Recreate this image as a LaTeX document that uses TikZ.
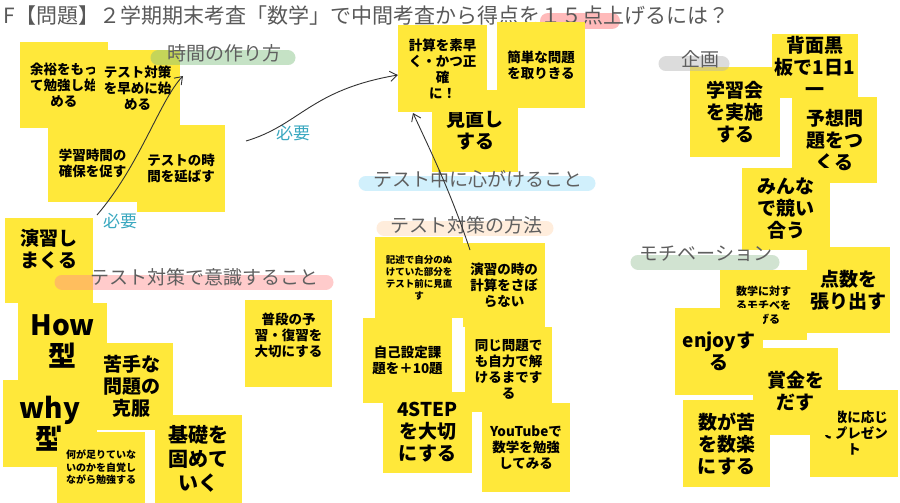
\documentclass[tikz,border=0pt]{standalone}
\usepackage{fontspec}
\setmainfont{Noto Sans CJK JP}
\usetikzlibrary{arrows.meta}
\definecolor{sticky}{RGB}{255,232,58}
\definecolor{labelgray}{RGB}{95,95,95}
\definecolor{needcyan}{RGB}{58,168,192}
\tikzset{
  note/.style={fill=sticky, inner sep=2pt, align=center, font=\bfseries\fontsize{13.5}{16}\selectfont},
  bignote/.style={note, font=\bfseries\fontsize{19}{22}\selectfont},
  smallnote/.style={note, font=\bfseries\fontsize{10}{12.5}\selectfont},
  heading/.style={text=labelgray, font=\fontsize{19}{22}\selectfont},
  marker/.style={line width=15pt, line cap=round, opacity=0.45},
  need/.style={text=needcyan, font=\fontsize{17}{20}\selectfont},
  pen/.style={black!80, line width=0.9pt, -{Straight Barb[length=7pt,width=10pt]}}
}
\begin{document}
\begin{tikzpicture}[x=1pt,y=-1pt]
\useasboundingbox[fill=white] (0,0) rectangle (900,503);

% title
\draw[marker, red!60, line width=16pt] (548,21) -- (612,21);
\node[anchor=west, text=black!65, font=\fontsize{21}{24}\selectfont] (title) at (0,16)
  {F【問題】２学期期末考査「数学」で中間考査から得点を１５点上げるには？};

% time making
\node[note, minimum width=88, minimum height=86] (spare) at (64,85) {余裕をもっ\\て勉強し始\\める};
\node[note, minimum width=85, minimum height=76] (early) at (137.5,88) {テスト対策\\を早めに始\\める};
\node[note, minimum width=89, minimum height=77] (secure) at (92.5,163.5) {学習時間の\\確保を促す};
\node[note, minimum width=88, minimum height=87] (extend) at (181,168.5) {テストの時\\間を延ばす};

% awareness
\node[bignote, minimum width=88, minimum height=85, text depth=25pt] (drill) at (49,260.5) {演習し\\まくる};
\node[bignote, minimum width=89, minimum height=77, font=\bfseries\fontsize{28}{31}\selectfont] (how) at (62.5,341.5) {How\\型};
\node[bignote, minimum width=83, minimum height=87] (weak) at (131.5,386.5) {苦手な\\問題の\\克服};
\node[bignote, minimum width=94, minimum height=87, font=\bfseries\fontsize{28}{31}\selectfont] (why) at (50,423.5) {why\\型};
\node[smallnote, minimum width=88, minimum height=71] (lack) at (101,467.5) {何が足りていな\\いのかを自覚し\\ながら勉強する};
\node[bignote, minimum width=87, minimum height=88, font=\bfseries\fontsize{20}{24}\selectfont] (basic) at (198.5,459) {基礎を\\固めて\\いく};
\node[note, minimum width=87, minimum height=87, text depth=18pt] (daily) at (288.5,343.5) {普段の予\\習・復習を\\大切にする};

% during the test
\node[bignote, minimum width=86, minimum height=82, text depth=4pt] (review) at (475,131) {見直し\\する};
\node[note, minimum width=89, minimum height=87] (calc) at (442.5,68.5) {計算を素早\\く・かつ正\\確\\に！};
\node[note, minimum width=88, minimum height=86] (easy) at (541,65) {簡単な問題\\を取りきる};

% methods
\node[smallnote, minimum width=88, minimum height=81, font=\bfseries\fontsize{9.5}{12}\selectfont] (essay) at (419,277.5) {記述で自分のぬ\\けていた部分を\\テスト前に見直\\す};
\node[note, minimum width=82, minimum height=84] (nolazy) at (504,285) {演習の時の\\計算をさぼ\\らない};
\node[note, minimum width=89, minimum height=85] (plus) at (407.5,360.5) {自己設定課\\題を＋10題};
\node[note, minimum width=87, minimum height=85] (same) at (508.5,369.5) {同じ問題で\\も自力で解\\けるまです\\る};
\node[bignote, minimum width=89, minimum height=81] (step) at (427.5,432.5) {4STEP\\を大切\\にする};
\node[note, minimum width=88, minimum height=89] (youtube) at (526,447.5) {YouTubeで\\数学を勉強\\してみる};

% plans
\node[bignote, minimum width=90, minimum height=90] (studygrp) at (735,112) {学習会\\を実施\\する};
\node[bignote, minimum width=86, minimum height=62] (board) at (815,66) {背面黒\\板で1日1\\一};
\node[bignote, minimum width=85, minimum height=86] (predict) at (834.5,140) {予想問\\題をつ\\くる};
\node[bignote, minimum width=88, minimum height=82] (compete) at (786,209) {みんな\\で競い\\合う};

% motivation
\node[note, minimum width=87, minimum height=70, font=\bfseries\fontsize{11}{14}\selectfont] (motiv) at (763.5,305) {数学に対す\\るモチベを\\上げる};
\node[bignote, minimum width=83, minimum height=86] (post) at (848.5,290) {点数を\\張り出す};
\node[bignote, minimum width=88, minimum height=87] (enjoy) at (719,351.5) {enjoyす\\る};
\node[note, minimum width=88, minimum height=87] (present) at (854,433.5) {点数に応じ\\てプレゼン\\ト};
\node[bignote, minimum width=85, minimum height=87] (prize) at (795.5,391.5) {賞金を\\だす};
\node[bignote, minimum width=87, minimum height=87] (fun) at (726.5,443.5) {数が苦\\を数楽\\にする};

% headings
\draw[marker, green!50!black!50] (158,58) -- (288,58);
\node[heading] (timehd) at (224,53) {時間の作り方};
\draw[marker, red!45] (62,282) -- (326,282);
\node[heading] (awarehd) at (204,277) {テスト対策で意識すること};
\draw[marker, cyan!40] (366,183) -- (588,183);
\node[heading] (duringhd) at (478,179) {テスト中に心がけること};
\draw[marker, orange!30] (384,228) -- (546,228);
\node[heading] (methodhd) at (466,225) {テスト対策の方法};
\draw[marker, gray!60] (666,64) -- (722,64);
\node[heading] (planhd) at (700,59) {企画};
\draw[marker, green!40!black!40] (638,262) -- (772,262);
\node[heading] (motivhd) at (706,254) {モチベーション};

% connectors
\node[need] (need1) at (120,221) {必要};
\node[need] (need2) at (293,133) {必要};
\coordinate (p1) at (97,215);
\coordinate (p2) at (246,141);
\coordinate (p3) at (470,250);
\draw[pen] (p1) .. controls (140,165) and (160,100) .. (183,76);
\draw[pen] (p2) .. controls (300,125) and (310,90) .. (calc.west |- 0,75);
\draw[pen] (p3) .. controls (450,190) and (430,150) .. (413,113);
\end{tikzpicture}
\end{document}
